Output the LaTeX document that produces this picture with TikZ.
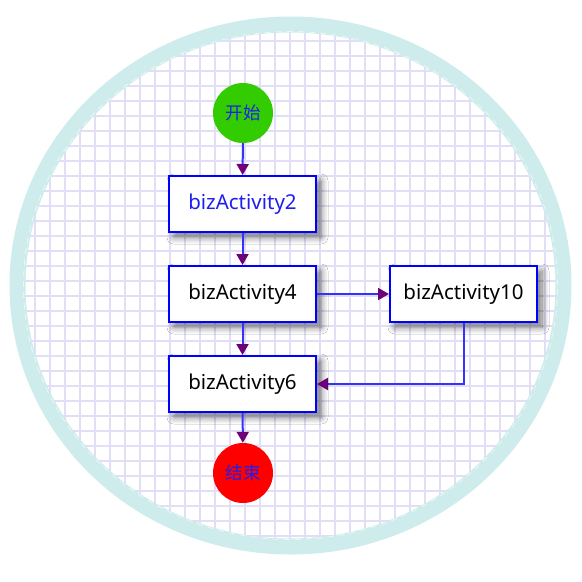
\documentclass[tikz,border=0pt]{standalone}
\usepackage{fontspec}
\setmainfont{Noto Sans}
\newfontfamily\cjk{Noto Sans CJK SC}
\usetikzlibrary{arrows.meta,shadows.blur}
\definecolor{ringc}{RGB}{206,236,236}
\definecolor{gridc}{RGB}{226,222,246}
\definecolor{boxblue}{RGB}{0,0,255}
\definecolor{lineblue}{RGB}{51,51,255}
\definecolor{tipc}{RGB}{110,0,120}
\definecolor{startg}{RGB}{51,204,0}
\definecolor{txtblue}{RGB}{30,30,240}
\tikzset{
  gridline/.style={draw=gridc,line width=1.5pt},
  actbox/.style={draw=boxblue,line width=2pt,fill=white,minimum width=147pt,minimum height=56pt,inner sep=0pt,
    font=\fontsize{20.5}{22}\selectfont,
    blur shadow={shadow xshift=5pt,shadow yshift=-5pt,shadow blur radius=7pt,shadow blur steps=12,shadow opacity=55}},
  endpt/.style={circle,draw=none,minimum size=60pt,inner sep=0pt,font=\cjk\fontsize{17.5}{20}\selectfont,text=txtblue},
  flow/.style={draw=lineblue,line width=2pt,-{Triangle[width=12pt,length=11pt,color=tipc]}}
}
\begin{document}
\begin{tikzpicture}[x=1pt,y=-1pt]
\useasboundingbox (0,0) rectangle (582,582);
\fill[white] (0,0) rectangle (582,582);
\begin{scope}
  \clip (290.5,285.5) ellipse [x radius=276pt, y radius=264pt];
  \foreach \x in {5,20,...,575} \draw[gridline] (\x,0) -- (\x,582);
  \foreach \y in {11,26,...,581} \draw[gridline] (0,\y) -- (582,\y);
\end{scope}
\draw[ringc,line width=16pt] (290.5,285.5) ellipse [x radius=273pt, y radius=261pt];
\draw[white,opacity=0.6,line width=0.8pt,dash pattern=on 6pt off 5pt] (290.5,285.5) ellipse [x radius=267pt, y radius=254pt];

\node[endpt,fill=startg] (start) at (243,113) {开始};
\node[actbox,text=txtblue] (b2) at (242.5,204) {bizActivity2};
\node[actbox,text=black] (b4) at (242.5,294) {bizActivity4};
\node[actbox,text=black] (b10) at (463.5,294) {bizActivity10};
\node[actbox,text=black] (b6) at (242.5,384) {bizActivity6};
\node[endpt,fill=red] (end) at (243,473) {结束};

\draw[flow] (start) -- (b2);
\draw[flow] (b2) -- (b4);
\draw[flow] (b4) -- (b6);
\draw[flow] (b6) -- (end);
\draw[flow] (b4) -- (b10);
\draw[flow] (b10) |- (b6);
\end{tikzpicture}
\end{document}
